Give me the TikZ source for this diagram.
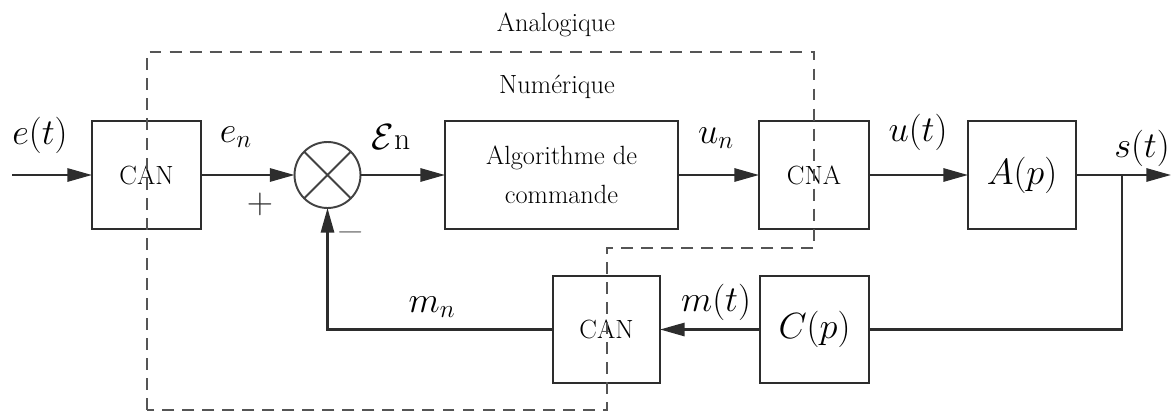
\documentclass[tikz,border=0pt]{standalone}
\usetikzlibrary{arrows.meta}
\definecolor{dashc}{RGB}{85,85,85}
\definecolor{linec}{RGB}{45,45,45}
\begin{document}
\begin{tikzpicture}[x=0.02cm,y=-0.02cm,
  blk/.style 2 args={draw=linec,line width=1.3pt,minimum width=#1*0.02cm,minimum height=#2*0.02cm,inner sep=0pt,outer sep=0pt,align=center,font=\fontsize{15}{22}\selectfont},
  mblk/.style 2 args={blk={#1}{#2},font=\fontsize{20}{24}\selectfont},
  sumc/.style={draw=linec!90,line width=1.1pt,circle,minimum size=1.32cm,inner sep=0pt,outer sep=0pt},
  ln/.style={draw=linec,line width=1.3pt},
  arr/.style={ln,-{Triangle[length=14pt,width=7.5pt]}},
  dashline/.style={draw=dashc,line width=1.3pt,dash pattern=on 6.8pt off 4.6pt},
  lbl/.style={inner sep=0pt,font=\fontsize{20}{24}\selectfont},
  txt/.style={inner sep=0pt,font=\fontsize{15}{18}\selectfont}]
\useasboundingbox (0,0) rectangle (1172,412);

% blocks
\node[blk={109}{108}] (can1) at (146.5,175) {CAN};
\node[sumc] (sum) at (327.5,175) {};
\node[blk={233}{108}] (algo) at (561.5,175) {Algorithme de\\commande};
\node[blk={110}{108}] (cna) at (814,175) {CNA};
\node[mblk={108}{108}] (A) at (1022,175) {$A(p)$};
\node[blk={107}{107}] (can2) at (606.5,329.5) {CAN};
\node[mblk={109}{107}] (C) at (814.5,329.5) {$C(p)$};

\draw[linec!90,line width=1.1pt] (sum.45) -- (sum.225) (sum.135) -- (sum.315);

% free ends
\coordinate (in) at (12,175);
\coordinate (out) at (1171,175);
\coordinate (br) at (1122,175);

% connectors
\draw[arr] (in) -- (can1);
\draw[arr] (can1) -- (sum);
\draw[arr] (sum) -- (algo);
\draw[arr] (algo) -- (cna);
\draw[arr] (cna) -- (A);
\draw[arr] (A) -- (out);
\draw[ln] (br) |- (C);
\draw[arr] (C) -- (can2);
\draw[arr] (can2) -| (sum);

% labels
\node[lbl] (le) at (40,135) {$e(t)$};
\node[lbl] (len) at (236,137) {$e_n$};
\node[txt,font=\fontsize{20}{24}\selectfont,text=linec] (lplus) at (260,204) {$+$};
\node[txt,font=\fontsize{20}{24}\selectfont,text=gray] (lminus) at (351,232) {$-$};
\node[lbl] (leps) at (391,137) {$\mathcal{E}$\fontsize{18}{20}\selectfont n};
\node[lbl] (lun) at (716,138) {$u_n$};
\node[lbl] (lut) at (918,132) {$u(t)$};
\node[lbl] (lst) at (1142,148) {$s(t)$};
\node[lbl] (lmn) at (432,307) {$m_n$};
\node[lbl] (lmt) at (716,302) {$m(t)$};
\node[txt] (lana) at (556,25) {Analogique};
\node[txt] (lnum) at (557,87) {Numérique};

% analog / digital boundary
\draw[dashline] (147,410) -- (147,52) -- (814,52) -- (814,248) -- (607,248) -- (607,410) -- cycle;
\end{tikzpicture}
\end{document}
